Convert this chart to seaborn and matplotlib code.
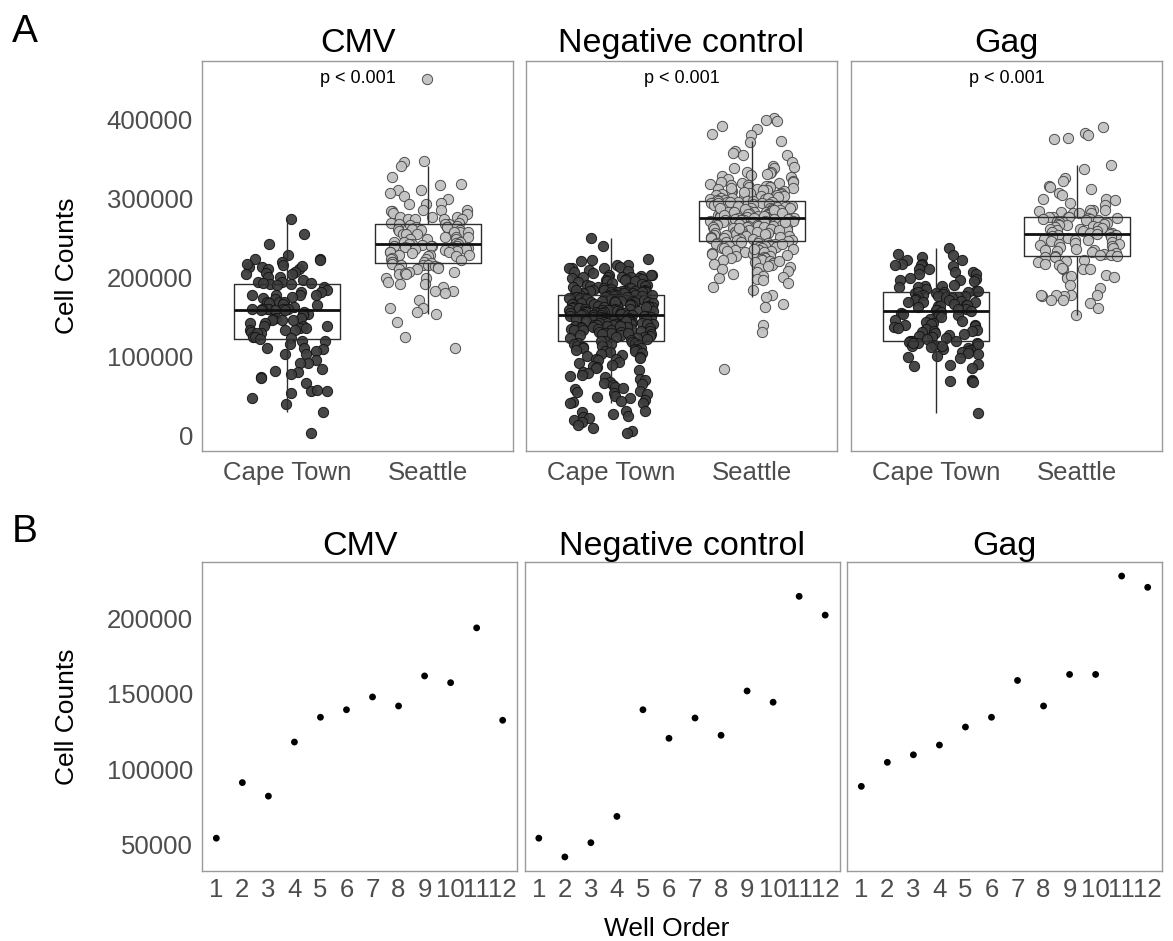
import numpy as np
import pandas as pd
import matplotlib
matplotlib.use("Agg")
import matplotlib.pyplot as plt
import seaborn as sns

# ---------------- data ----------------
facets = ["CMV", "Negative control", "Gag"]
cities = ["Cape Town", "Seattle"]
p_labels = ["p < 0.001", "p < 0.001", "p < 0.001"]

cmv_cape_town = [
    274600, 254800, 242100, 228200, 223100, 222500, 223800, 213400, 212800, 219000,
    216500, 215200, 211300, 210800, 213900, 207000, 205000, 204500, 205600, 200800,
    201200, 196600, 194400, 194000, 192300, 192700, 191900, 192800, 190000, 188500,
    183900, 181000, 181400, 177600, 177200, 178000, 177400, 175500, 173300, 173700,
    169100, 168800, 169500, 167000, 166600, 164900, 162800, 159800, 160100, 159500,
    160400, 159200, 159900, 160200, 158500, 158800, 156200, 153100, 153400, 152800,
    148000, 148300, 147700, 145900, 146200, 145600, 141700, 142000, 138700, 138400,
    139000, 135400, 135700, 133300, 133000, 133600, 131100, 129000, 129300, 124800,
    125100, 122700, 122400, 119300, 119600, 115100, 110000, 110300, 109700, 106700,
    102400, 102700, 95300, 91000, 91300, 83900, 80500, 80800, 77100, 74200,
    72100, 65700, 56400, 56100, 56700, 53100, 47600, 40000, 29000, 2400]

cmv_seattle = [
    452000, 347600, 346400, 340900, 327400, 318100, 316800, 311300, 310500, 307500,
    303300, 300000, 294500, 293600, 292800, 285900, 285600, 285200, 284800, 284500,
    281400, 281000, 277000, 276700, 276400, 274400, 274100, 273800, 273500, 269000,
    268600, 266900,
    268000, 267800, 267200, 264700, 264400, 264100, 263800, 261300, 261000, 260700,
    260400, 258300, 258000, 257700, 257400, 255100, 254800, 254500, 251700, 251400,
    251100, 248800, 248500, 248200, 245400, 245100, 244800, 243200, 242400, 242100,
    241800, 241500,
    240300, 239900, 239600, 239300, 238700, 238000, 237200, 236700, 236400, 235800,
    234900, 233600, 232400, 232800, 232100, 230500, 228500, 228200, 227900, 227600,
    226800, 224300, 224000, 223700, 221500, 219800, 220100, 219500, 218600, 217400,
    215900, 215600, 215300, 214800, 213600, 211300, 211600, 210900, 207100, 207400,
    205000, 205300, 204700, 198700, 199000, 194400, 191500, 191800, 188100, 183100,
    183400, 179700, 171300, 161500, 161800, 155600, 153500, 143400, 124000, 110500]

neg_cape_town = [
    250200, 240000, 224000, 222300, 220900, 216400, 215800, 213400, 212200, 211800,
    212600, 209200, 208800, 206300, 205900, 203700, 203300, 202900, 201200, 200800,
    200400, 201600, 200100,
    199500, 198800, 198200, 197500, 196900, 196400, 195700, 195100, 194200, 193300,
    192100, 190800,
    189800, 189300, 188900, 188200, 187700, 187100, 186600, 186000, 185500, 185000,
    184600, 184100,
    183700, 183400, 183000, 182600, 182200, 181900, 181500, 181100, 180800, 180400,
    180000, 179700, 179400, 179100, 178800, 178600, 178300, 178100, 177900, 177800,
    183900, 182900, 181300, 180200, 179000,
    177400, 177000, 176600, 176200, 175800, 175400, 175000, 174600, 174200, 173800,
    173400, 173000, 172600, 172200, 171800, 171400, 171000, 170600, 170300, 170100,
    169700, 169300, 168900, 168500, 168100, 167700, 167300, 166900, 166500, 166100,
    165700, 165300, 164900, 164500, 164200, 163900, 163600, 163300, 163100, 168700,
    162800, 162400, 162000, 161600, 161200, 160800, 160400, 160000, 159700, 159300,
    158900, 158500, 158200, 157900, 157600, 157300, 157100, 161900,
    156700, 156400, 156000, 155700, 155300, 155000, 154600, 154300, 153900, 153600,
    153300, 153000, 152700, 152500, 152400,
    152200, 151900, 151500, 151100, 150700, 150300, 149900, 149500, 149100, 148700,
    148300, 147900, 147500, 147200, 146900, 146600, 146300, 146100,
    145800, 145400, 145000, 144600, 144200, 143800, 143400, 143000, 142600, 142200,
    141800, 141500, 141200, 140900, 140600, 140300, 140100, 144900,
    139700, 139200, 138700, 138200, 137700, 137200, 136700, 136200, 135700, 135200,
    134700, 134200, 133800, 133400, 133100, 136900, 138900,
    132600, 131900, 131200, 130500, 129800, 129100, 128400, 127700, 127000, 126400,
    130100,
    125700, 125000, 124200, 123400, 122600, 121700, 120800, 119900,
    119000, 118200, 117400, 116600, 115800, 115000, 114200, 113400, 112600,
    111700, 110900, 110100, 109300, 108500, 107700, 106900, 106100, 105300,
    104300, 103000, 101800, 100500, 99300, 98100, 97000, 96200,
    94800, 93100, 91300, 89500, 87900, 86400,
    84700, 82500, 80400, 78600, 76700,
    75200, 73500, 71600, 69800, 68000, 66400,
    64900, 63200, 61500, 59700, 58000, 56400,
    55000, 53300, 51600, 50000, 48300, 46600,
    45100, 43700, 42400, 41200, 40500,
    31200, 30400, 29100,
    27200, 24800, 22500, 21300, 19200,
    16400, 12800,
    8900, 5800, 2500]

neg_seattle = [
    402500, 400000, 397900, 391500, 388600, 382300, 380200, 372600, 371700, 360300,
    357800, 355700, 354800, 346400, 341500, 340300, 339400, 338200, 334000, 333100,
    332400, 331500, 330200, 329000, 327600, 325300, 322500, 321600, 320800, 320200,
    319500, 318700, 317800, 317200, 316300, 315600, 314800, 314100, 313300, 312600,
    311900, 311300, 310600, 309800, 309100, 308500, 307700, 307200, 306400, 305800,
    305100, 304300, 303700, 302900, 302300, 301600, 300900, 300300, 299600, 299000,
    298500, 298100, 313800, 307900, 301200,
    297400, 296900, 296700, 295900, 295300, 295100, 294600, 293800, 293500, 293100,
    292400, 292200, 291700, 291000, 290800, 290300, 289600, 289400, 288700, 288200,
    287900, 287600, 286900, 286300, 286100, 285500, 285200, 284600, 284100, 283900,
    283200, 282800, 282500, 281700, 281500, 281100, 280600, 280300, 279700, 279400,
    279100, 278600, 278300, 277900, 277600, 277200, 276900, 276500, 276200, 275900,
    275700, 275500, 296200, 294100, 290100, 288400, 286700, 284900, 283500, 281900,
    280100, 278900, 277400, 276700, 275600,
    275200, 274800, 274300, 274100, 273600, 273200, 272700, 272500, 271900, 271400,
    271100, 270600, 270200, 269800, 269300, 268900, 268400, 268100, 267500, 267000,
    266700, 266100, 265800, 265200, 264900, 264300, 263800, 263500, 262900, 262400,
    262100, 261600, 261000, 260700, 260200, 259600, 259300, 258700, 258100, 257800,
    257300, 256800, 256200, 255900, 255300, 254700, 254400, 253800, 253100, 252800,
    252200, 251600, 251100, 250600, 250100, 249500, 248900, 248300, 247600, 247000,
    246500, 246100, 270900, 263100, 255600,
    245500, 244800, 244200, 243500, 243100, 242400, 241800, 241200, 240500, 239900,
    239200, 238600, 237900, 237300, 236800, 236100, 235400, 234700, 234100, 233300,
    232600, 231800, 231100, 230200, 229400, 228500, 227700, 226800, 226000, 225100,
    224200, 223400, 222300, 221500, 220600, 219500, 218400, 216900, 215300, 213700,
    212100, 210400, 208600, 206900, 204100, 201800, 200600, 199700, 198500, 196900,
    193400, 188300, 184100, 178000, 175500, 165800, 162000, 139600, 131200, 83500,
    242900, 236500, 229800, 221000, 214500]

gag_cape_town = [
    237000, 230300, 228200, 226100, 222700, 221900, 217500, 216800, 216000, 215400,
    214600, 211300, 211000, 207100, 206800, 205000, 204600, 199000, 197800, 197000,
    196200, 195500, 190800, 189600, 189000, 188200, 187400, 184800, 180900, 180500,
    183000, 182600, 182100, 181500, 181000,
    178500, 177600, 177000, 176300, 175800, 175200, 174600, 174000,
    172200, 171500, 170800, 170100, 169500, 168800, 168300,
    166300, 165500, 164700, 164000, 163300, 162600,
    160500, 159700, 158900, 158200, 157500, 156800,
    154900, 153500, 152200, 151000, 149800,
    147800, 146300, 145100, 143900, 142600,
    141300, 140200, 139100, 138000, 136900, 135900,
    134800, 133700, 132600, 131600, 130500, 129600,
    128400, 127200, 126000, 124900, 123700,
    121500, 119900, 119600, 119000, 118600, 118100, 117400, 116800,
    115900, 114400, 113100, 111800, 110600,
    109300, 108100, 106800, 105500, 104300,
    100900, 99200, 97600,
    90200, 88700, 87200, 85800,
    70500, 69300, 68600, 67800,
    116500, 112500, 103000,
    27500]

gag_seattle = [
    390600, 383000, 380900, 376700, 375800,
    342100, 337000, 326000, 321800, 315900, 315300, 311700, 307500, 304100, 300000,
    299400, 298800, 294800, 292300,
    285100, 285600, 284700, 285400, 282200, 282600, 281800, 282000, 277100, 276900,
    276800,
    276500, 275800, 275200, 274400, 273900, 273100, 272600, 271800, 271100, 270500,
    269700, 269000, 268200, 267500, 266600, 265900, 265100, 264300, 263500, 262700,
    261800, 261000, 260200, 259400, 258600, 257800, 257000, 256300, 255600, 255000,
    254300, 253200, 252300, 251200, 250100, 249100, 248000, 247100, 246000, 245000,
    243900, 242800, 241800, 240700, 239600, 238600, 237500, 236400, 235400, 234300,
    233300, 232200, 231200, 230100, 229100, 228300, 227400, 226600, 225900, 225400,
    222000, 220400, 219100, 217600, 216300, 211300, 211800, 210700, 211000, 202600,
    201100, 200400, 199800, 201700, 190200, 186000, 178300, 177600, 177000, 176500,
    178100, 177300, 171200, 170800, 167000, 161500, 153000]

well_order = [1, 2, 3, 4, 5, 6, 7, 8, 9, 10, 11, 12]
cmv_wells = [54000, 91000, 82000, 118000, 134500, 139500, 148000, 142000, 162000, 157500, 194000, 132500]
neg_wells = [54000, 41500, 51000, 68500, 139500, 120500, 134000, 122500, 152000, 144500, 215000, 202500]
gag_wells = [88500, 104500, 109500, 116000, 128000, 134500, 159000, 142000, 163000, 163000, 228500, 221000]

box_data = {
    "CMV": (cmv_cape_town, cmv_seattle),
    "Negative control": (neg_cape_town, neg_seattle),
    "Gag": (gag_cape_town, gag_seattle),
}
well_data = {"CMV": cmv_wells, "Negative control": neg_wells, "Gag": gag_wells}

# ---------------- style ----------------
sns.set_theme(style="white")
plt.rcParams["font.family"] = ["Liberation Sans", "DejaVu Sans"]

W, H = 1173, 941
fig = plt.figure(figsize=(W / 100, H / 100), dpi=100)


def rect(left, top, w, h):
    return [left / W, 1 - (top + h) / H, w / W, h / H]


BORDER = "#9a9a9a"
TICKLAB = "#4d4d4d"
fills = {"Cape Town": "#3e3e3e", "Seattle": "#c2c2c2"}
edges = {"Cape Town": "#141414", "Seattle": "#474747"}

rows = []
for f in facets:
    for c, vals in zip(cities, box_data[f]):
        for v in vals:
            rows.append((f, c, v))
df = pd.DataFrame(rows, columns=["facet", "city", "count"])

ymin, ymax = df["count"].min(), df["count"].max()
pad = 0.05 * (ymax - ymin)
ylimA = (ymin - pad, ymax + pad)

wmin = min(min(v) for v in well_data.values())
wmax = max(max(v) for v in well_data.values())
wpad = 0.05 * (wmax - wmin)
ylimB = (wmin - wpad, wmax + wpad)

np.random.seed(3)


def style_axes(ax):
    for s in ax.spines.values():
        s.set_visible(True)
        s.set_color(BORDER)
        s.set_linewidth(1.0)
    ax.tick_params(axis="both", direction="out", length=3.5, width=0.9,
                   color=BORDER, labelcolor=TICKLAB, labelsize=18.5, pad=3)
    ax.set_xlabel("")
    ax.set_ylabel("")


# ---------------- panel A ----------------
lefts_A = [202, 526, 851]
for i, f in enumerate(facets):
    ax = fig.add_axes(rect(lefts_A[i], 61, 311, 390))
    sub = df[df["facet"] == f]
    sns.boxplot(data=sub, x="city", y="count", order=cities, width=0.75,
                showfliers=False, showcaps=False, fill=False, color="#2e2e2e",
                linewidth=1.0, medianprops={"linewidth": 2.0, "color": "#111111"},
                ax=ax)
    for c in cities:
        s2 = sub[sub["city"] == c]
        sns.stripplot(data=s2, x="city", y="count", order=cities, jitter=0.3,
                      size=7.4, color=fills[c], edgecolor=edges[c], linewidth=0.7,
                      alpha=0.95, ax=ax, zorder=1)
    ax.set_xlim(-0.6, 1.6)
    ax.set_ylim(*ylimA)
    style_axes(ax)
    ax.set_xticks([0, 1])
    ax.set_xticklabels(cities)
    ax.tick_params(axis="x", pad=4)
    if i == 0:
        yt = [0, 100000, 200000, 300000, 400000]
        ax.set_yticks(yt)
        ax.set_yticklabels([str(t) for t in yt])
    else:
        ax.set_yticks([])
        ax.tick_params(axis="y", left=False, labelleft=False)
    ax.set_title(f, fontsize=24.5, color="black", pad=6.5)
    ax.text(0.5, 0.956, p_labels[i], transform=ax.transAxes, ha="center",
            va="center", fontsize=13, color="black")

# ---------------- panel B ----------------
lefts_B = [202, 524.5, 847]
for i, f in enumerate(facets):
    ax = fig.add_axes(rect(lefts_B[i], 562, 315, 309))
    sns.scatterplot(x=well_order, y=well_data[f], color="black", s=24,
                    edgecolor="none", ax=ax, legend=False)
    ax.set_xlim(1 - 0.55, 12 + 0.55)
    ax.set_ylim(*ylimB)
    style_axes(ax)
    ax.set_xticks(well_order)
    ax.set_xticklabels([str(w) for w in well_order])
    ax.tick_params(axis="x", pad=1.5)
    if i == 0:
        yt = [50000, 100000, 150000, 200000]
        ax.set_yticks(yt)
        ax.set_yticklabels([str(t) for t in yt])
    else:
        ax.set_yticks([])
        ax.tick_params(axis="y", left=False, labelleft=False)
    ax.set_title(f, fontsize=24.5, color="black", pad=5)

# ---------------- labels ----------------
fig.text(67 / W, 1 - 266 / H, "Cell Counts", rotation=90, ha="center",
         va="center", fontsize=19, color="black")
fig.text(67 / W, 1 - 717 / H, "Cell Counts", rotation=90, ha="center",
         va="center", fontsize=19, color="black")
fig.text(667 / W, 1 - 929 / H, "Well Order", ha="center", va="center",
         fontsize=19, color="black")
fig.text(12 / W, 1 - 14 / H, "A", ha="left", va="top", fontsize=28, color="black")
fig.text(12 / W, 1 - 514 / H, "B", ha="left", va="top", fontsize=28, color="black")

fig.savefig("out.png", dpi=100)
